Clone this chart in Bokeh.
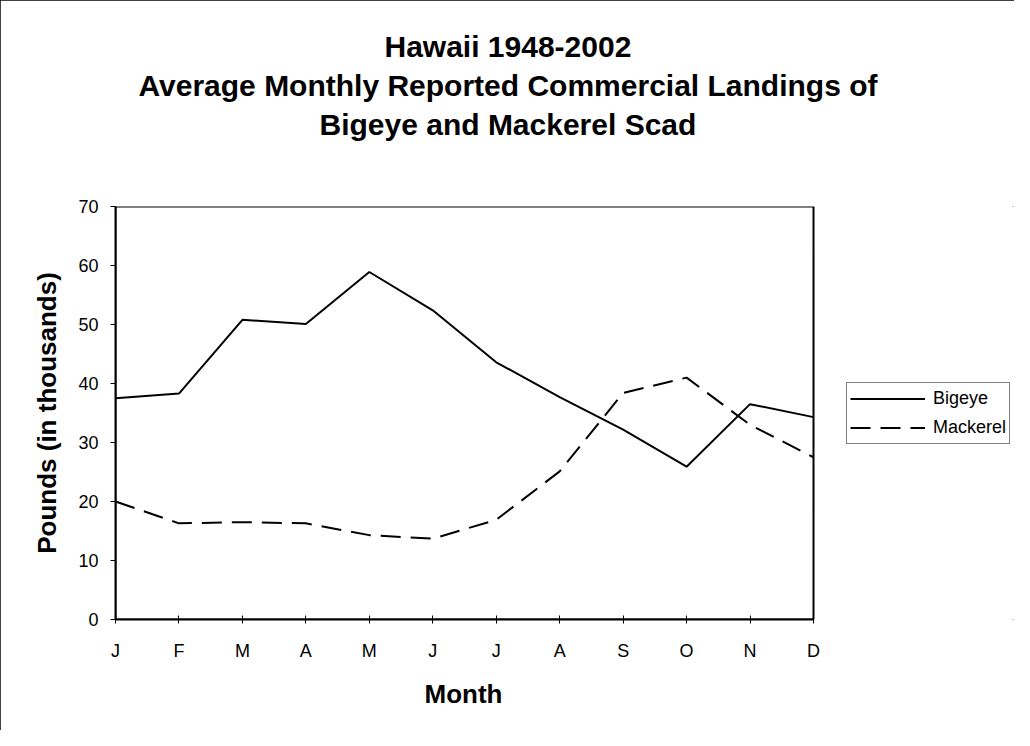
from bokeh.plotting import figure
from bokeh.models import (FixedTicker, Range1d, Legend, LegendItem, Title,
                          InlineStyleSheet, BoxAnnotation)
from bokeh.embed import file_html
from bokeh.resources import INLINE

# ---- data ----
months = ["J", "F", "M", "A", "M", "J", "J", "A", "S", "O", "N", "D"]
bigeye = [37.5, 38.3, 50.8, 50.1, 58.9, 52.4, 43.6, 37.7, 32.2, 25.9, 36.5, 34.3]
mackerel = [20.0, 16.3, 16.5, 16.3, 14.3, 13.7, 16.9, 25.1, 38.4, 41.0, 33.0, 27.5]
y_ticks = [0, 10, 20, 30, 40, 50, 60, 70]
title_lines = ["Hawaii 1948-2002",
               "Average Monthly Reported Commercial Landings of",
               "Bigeye and Mackerel Scad"]
x_label = "Month"
y_label = "Pounds (in thousands)"
series_names = ["Bigeye", "Mackerel"]

x = list(range(len(months)))
FONT = "Liberation Sans"

# layout (pixels)
W, H = 1014, 730
LEFT, TOP, BOTTOM = 115, 206, 111
PLOT_W = 698                      # width of the visible plot box
FRAME_W = W - LEFT                # frame also holds the legend area
x_max = len(months) - 1
x_end = x_max * FRAME_W / PLOT_W
y_max = y_ticks[-1]

p = figure(width=W, height=H,
           x_range=Range1d(0, x_end), y_range=Range1d(0, y_max),
           output_backend="svg", toolbar_location=None, title=None,
           min_border_left=LEFT, min_border_right=0,
           min_border_top=TOP, min_border_bottom=BOTTOM)
p.stylesheets = [InlineStyleSheet(css=":host { outline: 2px solid black; outline-offset: -2px; }")]

p.background_fill_color = "white"
p.border_fill_color = "white"
p.outline_line_color = None
p.xgrid.visible = False
p.ygrid.visible = False

# visible plot box
box = BoxAnnotation(left=0, right=x_max, bottom=0, top=y_max,
                    fill_color=None, fill_alpha=0,
                    line_color="black", line_alpha=1, line_width=2,
                    level="overlay")
p.add_layout(box)

# title: white spacer nearest the frame, then one Title per line (last added on top)
spacer = Title(text=".", text_font=FONT, text_font_size="30px",
               text_color="white", standoff=41)
p.add_layout(spacer, "above")
title_offsets = [269, 23, 204]
title_standoffs = [4, 4, 5]
for line, off, so in reversed(list(zip(title_lines, title_offsets, title_standoffs))):
    t = Title(text=line, align="left", text_font=FONT,
              text_font_size="30px", text_font_style="bold", text_color="black",
              offset=off, standoff=so)
    p.add_layout(t, "above")

# x axis
xa = p.xaxis[0]
xa.bounds = (0, x_max)
xa.ticker = FixedTicker(ticks=x)
xa.major_label_overrides = {i: m for i, m in enumerate(months)}
xa.major_tick_in = 4
xa.major_tick_out = 4
xa.minor_tick_line_color = None
xa.axis_line_width = 2
xa.axis_line_color = "black"
xa.major_tick_line_color = "black"
xa.major_label_text_font = FONT
xa.major_label_text_font_size = "18px"
xa.major_label_text_color = "black"
xa.major_label_standoff = 17

# x-axis title, centred under the visible plot box (below the axis)
xt = Title(text=x_label, align="left", offset=309, standoff=26,
           text_font=FONT, text_font_size="26px", text_font_style="bold",
           text_color="black")
p.add_layout(xt, "below")

# y axis
ya = p.yaxis[0]
ya.ticker = FixedTicker(ticks=y_ticks)
ya.major_tick_in = 0
ya.major_tick_out = 5
ya.minor_tick_line_color = None
ya.axis_line_width = 2
ya.axis_line_color = "black"
ya.major_tick_line_color = "black"
ya.major_label_text_font = FONT
ya.major_label_text_font_size = "18px"
ya.major_label_text_color = "black"
ya.major_label_standoff = 12
ya.axis_label = y_label
ya.axis_label_text_font = FONT
ya.axis_label_text_font_size = "26px"
ya.axis_label_text_font_style = "bold"
ya.axis_label_text_color = "black"
ya.axis_label_standoff = 13

r1 = p.line(x, bigeye, line_color="black", line_width=2)
r2 = p.line(x, mackerel, line_color="black", line_width=2, line_dash="20 10")

legend = Legend(items=[LegendItem(label=series_names[0], renderers=[r1]),
                       LegendItem(label=series_names[1], renderers=[r2])],
                location=(731, 175), orientation="vertical",
                border_line_color="black", border_line_width=1,
                background_fill_color="white", background_fill_alpha=1,
                label_text_font=FONT, label_text_font_size="18px",
                label_text_color="black",
                glyph_width=75, glyph_height=25, label_height=25,
                label_standoff=8, padding=3, spacing=4, margin=0)
p.add_layout(legend, "center")

open("out.html", "w").write(file_html(p, INLINE))
